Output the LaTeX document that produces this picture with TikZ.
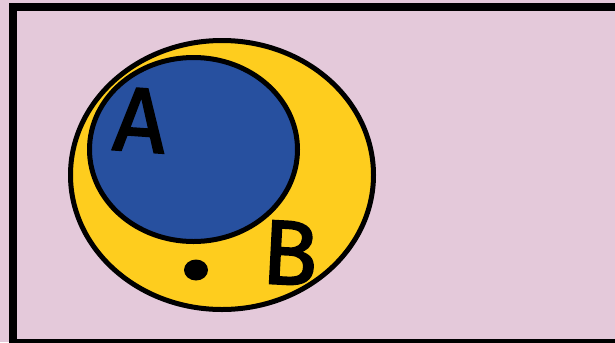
\documentclass[tikz,border=0pt]{standalone}
\usepackage{fontspec}
\newfontfamily\letterfont{Fira Sans}[FakeBold=2]
\usetikzlibrary{positioning}
\definecolor{bgpink}{HTML}{E4C9DA}
\definecolor{setyellow}{HTML}{FECD1E}
\definecolor{setblue}{HTML}{27509F}

\begin{document}
\begin{tikzpicture}[
    x=0.02cm, y=-0.02cm,
    setline/.style={draw=black, line width=0.1cm},
    letter/.style={font=\letterfont\fontsize{52}{56}\selectfont, inner sep=0pt}
]
% background and frame
\fill[bgpink] (0,0) rectangle (615,342);
\useasboundingbox (0,0) rectangle (615,342);
\draw[line width=0.16cm] (700,7) -- (13,7) -- (13,343) -- (700,343);

% sets
\draw[setline, fill=setyellow] (222,175) ellipse [x radius=151.5, y radius=134.5];
\draw[setline, fill=setblue] (193.5,149.5) ellipse [x radius=104, y radius=92];
\node[letter, rotate=-4] (setA) at (140,120) {A};
\node[letter, rotate=-3] (setB) at (290,253) {B};
\fill[black] (196,270) ellipse [x radius=12, y radius=10.5];
\end{tikzpicture}
\end{document}
